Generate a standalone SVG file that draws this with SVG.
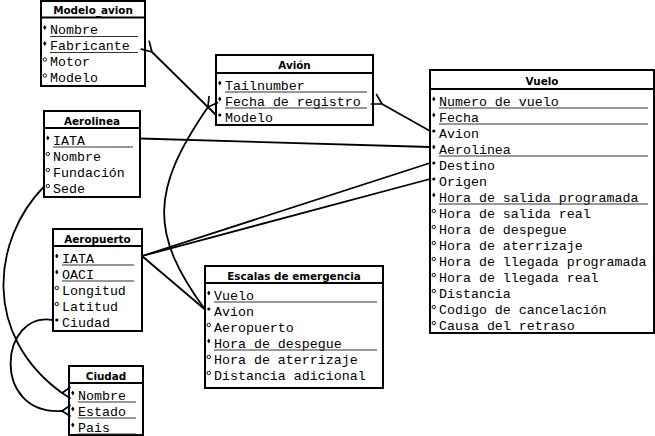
<svg xmlns="http://www.w3.org/2000/svg" width="655" height="436" viewBox="0 0 655 436">
<style>
.box{fill:#fff;stroke:#000;stroke-width:2}
.sep{stroke:#000;stroke-width:2}
.ttl{font-family:"DejaVu Sans",Verdana,sans-serif;font-weight:bold;font-size:10.4px;text-anchor:middle;fill:#000}
.at{font-family:"Liberation Mono","Courier New",monospace;font-size:13.3px;fill:#000}
.ul{stroke:#333;stroke-width:1.2}
.cn{fill:none;stroke:#000;stroke-width:1.8}
.crow{fill:none;stroke:#000;stroke-width:1.7;stroke-linecap:round;stroke-linejoin:round}
</style>
<defs>
<polygon id="bk" points="0,-2.6 1.6,0 0,2.6 -1.6,0" fill="#000"/>
<circle id="bm" r="1.6" fill="#000"/>
<circle id="bo" r="1.7" fill="#fff" stroke="#000" stroke-width="0.9"/>
</defs>

<g id="modelo_avion">
<rect class="box" x="41" y="1" width="104" height="85"/>
<line class="sep" x1="41" y1="17.5" x2="145" y2="17.5"/>
<text class="ttl" x="93" y="13.5">Modelo_avion</text>
<use href="#bk" x="44.8" y="27.5"/><text class="at" x="50" y="34">Nombre</text><line class="ul" x1="50" y1="36.5" x2="138" y2="36.5"/>
<use href="#bk" x="44.8" y="43.5"/><text class="at" x="50" y="50">Fabricante</text><line class="ul" x1="50" y1="52.5" x2="138" y2="52.5"/>
<use href="#bo" x="44.8" y="59.5"/><text class="at" x="50" y="66">Motor</text>
<use href="#bo" x="44.8" y="75.5"/><text class="at" x="50" y="82">Modelo</text>
</g>

<g id="aerolinea">
<rect class="box" x="44" y="111" width="96" height="86"/>
<line class="sep" x1="44" y1="128" x2="140" y2="128"/>
<text class="ttl" x="92" y="125">Aerolinea</text>
<use href="#bk" x="47.8" y="138"/><text class="at" x="53" y="144.5">IATA</text><line class="ul" x1="53" y1="147" x2="133" y2="147"/>
<use href="#bo" x="47.8" y="154"/><text class="at" x="53" y="160.5">Nombre</text>
<use href="#bo" x="47.8" y="170"/><text class="at" x="53" y="176.5">Fundación</text>
<use href="#bo" x="47.8" y="186"/><text class="at" x="53" y="192.5">Sede</text>
</g>

<g id="avion">
<rect class="box" x="216" y="55" width="157" height="70"/>
<line class="sep" x1="216" y1="73" x2="373" y2="73"/>
<text class="ttl" x="294.5" y="69">Avión</text>
<use href="#bk" x="219.8" y="83"/><text class="at" x="225" y="89.5">Tailnumber</text><line class="ul" x1="225" y1="92" x2="367" y2="92"/>
<use href="#bk" x="219.8" y="99"/><text class="at" x="225" y="105.5">Fecha de registro</text><line class="ul" x1="225" y1="108" x2="367" y2="108"/>
<use href="#bm" x="219.8" y="115"/><text class="at" x="225" y="121.5">Modelo</text>
</g>

<g id="vuelo">
<rect class="box" x="430" y="70" width="224" height="263"/>
<line class="sep" x1="430" y1="89" x2="654" y2="89"/>
<text class="ttl" x="542" y="84.5">Vuelo</text>
<use href="#bk" x="433.8" y="99"/><text class="at" x="439" y="105.5">Numero de vuelo</text><line class="ul" x1="439" y1="108" x2="648" y2="108"/>
<use href="#bk" x="433.8" y="115"/><text class="at" x="439" y="121.5">Fecha</text><line class="ul" x1="439" y1="124" x2="648" y2="124"/>
<use href="#bm" x="433.8" y="131"/><text class="at" x="439" y="137.5">Avion</text>
<use href="#bk" x="433.8" y="147"/><text class="at" x="439" y="153.5">Aerolinea</text><line class="ul" x1="439" y1="156" x2="648" y2="156"/>
<use href="#bm" x="433.8" y="163"/><text class="at" x="439" y="169.5">Destino</text>
<use href="#bm" x="433.8" y="179"/><text class="at" x="439" y="185.5">Origen</text>
<use href="#bk" x="433.8" y="195"/><text class="at" x="439" y="201.5">Hora de salida programada</text><line class="ul" x1="439" y1="204" x2="648" y2="204"/>
<use href="#bo" x="433.8" y="211"/><text class="at" x="439" y="217.5">Hora de salida real</text>
<use href="#bo" x="433.8" y="227"/><text class="at" x="439" y="233.5">Hora de despegue</text>
<use href="#bo" x="433.8" y="243"/><text class="at" x="439" y="249.5">Hora de aterrizaje</text>
<use href="#bo" x="433.8" y="259"/><text class="at" x="439" y="265.5">Hora de llegada programada</text>
<use href="#bo" x="433.8" y="275"/><text class="at" x="439" y="281.5">Hora de llegada real</text>
<use href="#bo" x="433.8" y="291"/><text class="at" x="439" y="297.5">Distancia</text>
<use href="#bo" x="433.8" y="307"/><text class="at" x="439" y="313.5">Codigo de cancelación</text>
<use href="#bo" x="433.8" y="323"/><text class="at" x="439" y="329.5">Causa del retraso</text>
</g>

<g id="aeropuerto">
<rect class="box" x="53" y="229" width="89" height="102"/>
<line class="sep" x1="53" y1="246" x2="142" y2="246"/>
<text class="ttl" x="97.5" y="243">Aeropuerto</text>
<use href="#bk" x="56.8" y="256"/><text class="at" x="62" y="262.5">IATA</text><line class="ul" x1="62" y1="265" x2="134" y2="265"/>
<use href="#bk" x="56.8" y="272"/><text class="at" x="62" y="278.5">OACI</text><line class="ul" x1="62" y1="281" x2="134" y2="281"/>
<use href="#bo" x="56.8" y="288"/><text class="at" x="62" y="294.5">Longitud</text>
<use href="#bo" x="56.8" y="304"/><text class="at" x="62" y="310.5">Latitud</text>
<use href="#bm" x="56.8" y="320"/><text class="at" x="62" y="326.5">Ciudad</text>
</g>

<g id="ciudad">
<rect class="box" x="69" y="366" width="74" height="69"/>
<line class="sep" x1="69" y1="383" x2="143" y2="383"/>
<text class="ttl" x="106" y="380">Ciudad</text>
<use href="#bk" x="72.8" y="393"/><text class="at" x="78" y="399.5">Nombre</text><line class="ul" x1="78" y1="402" x2="136" y2="402"/>
<use href="#bk" x="72.8" y="409"/><text class="at" x="78" y="415.5">Estado</text><line class="ul" x1="78" y1="418" x2="136" y2="418"/>
<use href="#bk" x="72.8" y="425"/><text class="at" x="78" y="431.5">Pais</text><line class="ul" x1="78" y1="434" x2="136" y2="434"/>
</g>

<g id="escalas">
<rect class="box" x="205" y="266" width="178" height="122"/>
<line class="sep" x1="205" y1="283" x2="383" y2="283"/>
<text class="ttl" x="294" y="280">Escalas de emergencia</text>
<use href="#bk" x="208.8" y="293"/><text class="at" x="214" y="299.5">Vuelo</text><line class="ul" x1="214" y1="302" x2="377" y2="302"/>
<use href="#bm" x="208.8" y="309"/><text class="at" x="214" y="315.5">Avion</text>
<use href="#bo" x="208.8" y="325"/><text class="at" x="214" y="331.5">Aeropuerto</text>
<use href="#bk" x="208.8" y="341"/><text class="at" x="214" y="347.5">Hora de despegue</text><line class="ul" x1="214" y1="350" x2="377" y2="350"/>
<use href="#bo" x="208.8" y="357"/><text class="at" x="214" y="363.5">Hora de aterrizaje</text>
<use href="#bo" x="208.8" y="373"/><text class="at" x="214" y="379.5">Distancia adicional</text>
</g>

<g id="connectors">
<path class="cn" d="M216,115 L152,52"/>
<path class="crow" d="M149.2,41.4 L152,52 L141.4,49.1"/>
<path class="cn" d="M430,131 L382,104"/>
<path class="crow" d="M376.5,94.5 L382,104 L371.5,104"/>
<path class="cn" d="M140,138.5 L430,147"/>
<path class="cn" d="M142,256 L430,163"/>
<path class="cn" d="M142,256 L430,179"/>
<path class="cn" d="M142,256 L205,309.5"/>
<path class="cn" d="M205,309.5 C150,234 150,191 208,107"/>
<path class="crow" d="M217.5,102.8 L208,107 L209,96.5"/>
<path class="cn" d="M44,186.5 C-8,240 -18,335 62,393"/>
<path class="crow" d="M70,387.5 L62,393 L70,398"/>
<path class="cn" d="M53,320 C0,310 -10,415 62,411"/>
<path class="crow" d="M70,405.5 L62,411 L70,416"/>
</g>
</svg>
